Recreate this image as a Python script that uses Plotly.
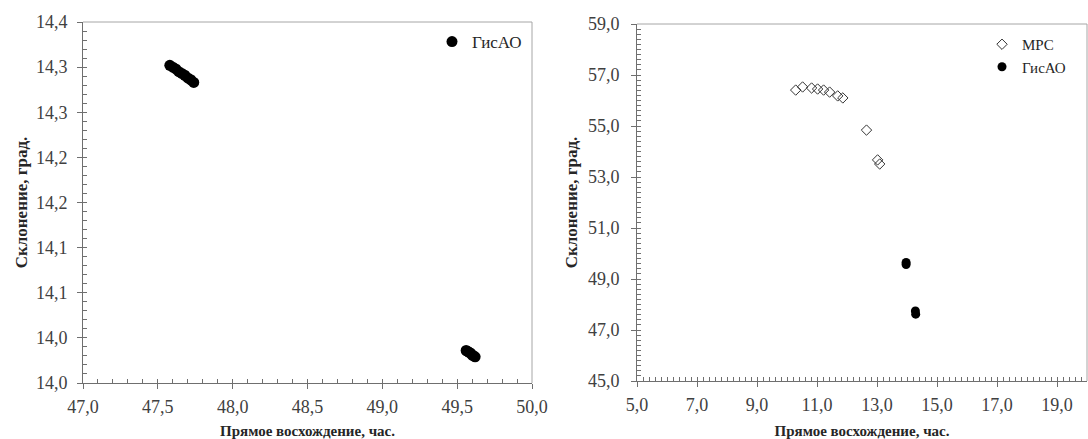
import plotly.graph_objects as go

# ---------------- data ----------------
# Left chart: ГисАО (right ascension, declination)
left_gisao_ra = [47.58, 47.60, 47.62, 47.64, 47.66, 47.68, 47.70, 47.72, 47.74,
                 49.56, 49.57, 49.58, 49.59, 49.60, 49.61, 49.62]
left_gisao_dec = [14.352, 14.350, 14.348, 14.345, 14.343, 14.341, 14.338, 14.336, 14.333,
                  14.036, 14.035, 14.034, 14.033, 14.031, 14.030, 14.029]

# Right chart: MPC and ГисАО
mpc_ra = [10.29, 10.52, 10.82, 11.02, 11.22, 11.42, 11.69, 11.86, 12.65, 13.02, 13.09]
mpc_dec = [56.41, 56.53, 56.49, 56.45, 56.41, 56.33, 56.18, 56.10, 54.84, 53.67, 53.51]
right_gisao_ra = [13.97, 13.97, 14.28, 14.29]
right_gisao_dec = [49.65, 49.57, 47.75, 47.62]

# Tick labels of the left y axis (as printed, one decimal)
left_y_tickvals = [14.0, 14.05, 14.1, 14.15, 14.2, 14.25, 14.3, 14.35, 14.4]
left_y_ticktext = ["14,0", "14,0", "14,1", "14,1", "14,2", "14,2", "14,3", "14,3", "14,4"]

x_title = "Прямое восхождение, час."
y_title = "Склонение, град."

# ---------------- figure ----------------
FONT = "Liberation Serif"
AXC = "#6f6f6f"
TXT = "#262626"
TICKTXT = "#404040"

fig = go.Figure()

fig.add_trace(go.Scatter(
    x=left_gisao_ra, y=left_gisao_dec, mode="markers", name="ГисАО",
    marker=dict(symbol="circle", size=11, color="black"),
    xaxis="x", yaxis="y", legend="legend"))

fig.add_trace(go.Scatter(
    x=mpc_ra, y=mpc_dec, mode="markers", name="MPC",
    marker=dict(symbol="diamond-open", size=8, color="#333333", line=dict(width=1)),
    xaxis="x2", yaxis="y2", legend="legend2"))
fig.add_trace(go.Scatter(
    x=right_gisao_ra, y=right_gisao_dec, mode="markers", name="ГисАО",
    marker=dict(symbol="circle", size=9, color="black"),
    xaxis="x2", yaxis="y2", legend="legend2"))

# invisible copies on overlay axes, so that the inside (minor + crossing) ticks get drawn
fig.add_trace(go.Scatter(x=left_gisao_ra, y=left_gisao_dec, mode="markers",
                         marker=dict(opacity=0), hoverinfo="skip", showlegend=False,
                         xaxis="x3", yaxis="y3"))
fig.add_trace(go.Scatter(x=mpc_ra, y=mpc_dec, mode="markers",
                         marker=dict(opacity=0), hoverinfo="skip", showlegend=False,
                         xaxis="x4", yaxis="y4"))

L_dom_x = [83 / 1088, 532 / 1088]
L_dom_y = [1 - 383 / 439, 1 - 22 / 439]
R_dom_x = [637 / 1088, 1087 / 1088]
R_dom_y = [1 - 381 / 439, 1 - 24 / 439]

L_rx = [47.0, 50.0]
L_ry = [14.0, 14.4]
R_rx = [5.0, 20.0]
R_ry = [45.0, 59.0]

tickfont = dict(family=FONT, size=18, color=TICKTXT)
xtitlefont = dict(family=FONT, size=15, color=TXT, weight="bold")
ytitlefont = dict(family=FONT, size=17, color=TXT, weight="bold")

common = dict(showgrid=False, zeroline=False, showline=True, linecolor=AXC, linewidth=1,
              ticks="outside", ticklen=5, tickcolor=AXC, tickwidth=1,
              tickfont=tickfont, automargin=False)

overlay = dict(showgrid=False, zeroline=False, showline=False, ticks="inside", ticklen=4,
               tickcolor=AXC, tickwidth=1, showticklabels=False, automargin=False)

fig.update_layout(
    width=1088, height=439,
    margin=dict(l=0, r=0, t=0, b=0),
    paper_bgcolor="white", plot_bgcolor="white",
    separators=", ",
    font=dict(family=FONT, size=16, color=TXT),
    xaxis=dict(domain=L_dom_x, anchor="y", range=L_rx, dtick=0.5, tick0=47.0,
               tickformat=".1f", ticklabelstandoff=2,
               title=dict(text=x_title, font=xtitlefont, standoff=12), **common),
    yaxis=dict(domain=L_dom_y, anchor="x", range=L_ry,
               tickvals=left_y_tickvals, ticktext=left_y_ticktext, ticklabelstandoff=6,
               title=dict(text=y_title, font=ytitlefont, standoff=3), **common),
    xaxis2=dict(domain=R_dom_x, anchor="y2", range=R_rx, dtick=2, tick0=5.0,
                tickformat=".1f", ticklabelstandoff=2,
                title=dict(text=x_title, font=xtitlefont, standoff=12), **common),
    yaxis2=dict(domain=R_dom_y, anchor="x2", range=R_ry, dtick=2, tick0=45.0,
                tickformat=".1f", ticklabelstandoff=8,
                title=dict(text=y_title, font=ytitlefont, standoff=5), **common),
    xaxis3=dict(overlaying="x", anchor="y3", domain=L_dom_x, range=L_rx,
                dtick=0.1, tick0=47.0, **overlay),
    yaxis3=dict(overlaying="y", anchor="x3", domain=L_dom_y, range=L_ry,
                dtick=0.01, tick0=14.0, **overlay),
    xaxis4=dict(overlaying="x2", anchor="y4", domain=R_dom_x, range=R_rx,
                dtick=0.2, tick0=5.0, **overlay),
    yaxis4=dict(overlaying="y2", anchor="x4", domain=R_dom_y, range=R_ry,
                dtick=0.2, tick0=45.0, **overlay),
    legend=dict(x=(472 - 40) / 1088, y=1 - 24 / 439, xanchor="left", yanchor="top",
                bgcolor="rgba(0,0,0,0)", font=dict(family=FONT, size=17, color=TXT),
                itemwidth=30, tracegroupgap=0),
    legend2=dict(x=(1022 - 40) / 1088, y=1 - 28 / 439, xanchor="left", yanchor="top",
                 bgcolor="rgba(0,0,0,0)", font=dict(family=FONT, size=15, color=TXT),
                 itemwidth=30, tracegroupgap=0),
    showlegend=True,
)

# top and right borders of both plot areas
for xr, yr in (("x domain", "y domain"), ("x2 domain", "y2 domain")):
    fig.add_shape(type="line", xref=xr, yref=yr, x0=0, x1=1, y0=1, y1=1,
                  line=dict(color="#a6a6a6", width=1))
    fig.add_shape(type="line", xref=xr, yref=yr, x0=1, x1=1, y0=0, y1=1,
                  line=dict(color="#a6a6a6", width=1))

fig.write_html("out.html")
